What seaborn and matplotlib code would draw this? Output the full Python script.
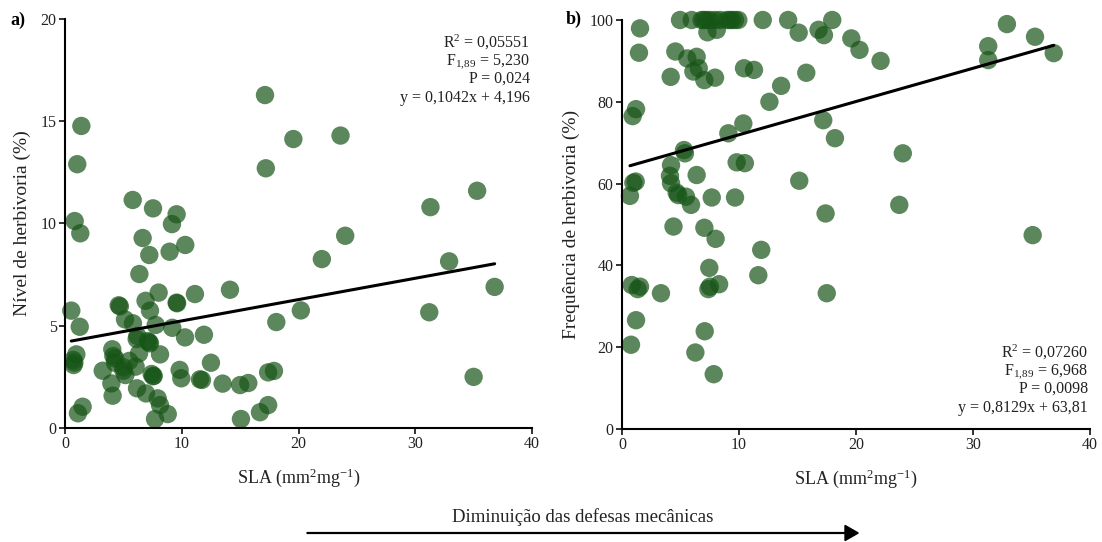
import numpy as np
import pandas as pd
import matplotlib
matplotlib.use("Agg")
import matplotlib.pyplot as plt
import seaborn as sns

# ---------------- data ----------------
sla_a = [17.13, 19.56, 23.6, 17.2, 35.3, 31.3, 24.0, 22.0, 32.9, 14.13, 36.8, 20.2, 31.2,
         18.1, 11.9, 12.5, 13.5, 15.0, 15.7, 17.4, 17.9, 35.0, 17.4, 16.7, 15.07,
         1.40, 1.05, 5.8, 7.54, 9.56, 9.16, 0.83, 1.31, 6.65, 10.3, 8.96, 7.22,
         6.37, 8.02, 11.13, 4.6, 4.7, 9.56, 9.6, 6.9, 0.54, 7.28, 5.14, 5.82, 1.26, 7.77,
         9.19, 10.28, 6.14, 7.08, 7.28, 6.34, 8.14, 4.05, 4.14, 0.97, 0.71, 0.74, 4.28,
         5.5, 6.05, 5.0, 5.17, 3.23, 7.42, 7.54, 9.82, 9.96, 11.56, 11.73, 3.97, 6.17,
         6.94, 4.08, 7.94, 8.14, 8.8, 7.71, 1.51, 1.11,
         7.6, 0.8, 4.3, 5.0, 6.2, 7.2]
herb_a = [16.28, 14.13, 14.3, 12.7, 11.6, 10.8, 9.4, 8.26, 8.15, 6.76, 6.9, 5.75, 5.66,
          5.18, 4.56, 3.19, 2.17, 2.1, 2.2, 2.72, 2.79, 2.5, 1.12, 0.77, 0.44,
          14.77, 12.9, 11.15, 10.74, 10.45, 9.97, 10.12, 9.52, 9.29, 8.95, 8.62, 8.46,
          7.53, 6.62, 6.55, 6.0, 5.95, 6.13, 6.1, 6.22, 5.74, 5.74, 5.31, 5.12, 4.95, 5.04,
          4.9, 4.43, 4.35, 4.25, 4.14, 3.65, 3.6, 3.85, 3.52, 3.6, 3.33, 3.08, 3.19,
          3.28, 3.0, 2.97, 2.59, 2.8, 2.64, 2.53, 2.84, 2.43, 2.38, 2.35, 2.18, 1.94,
          1.69, 1.58, 1.45, 1.12, 0.68, 0.44, 1.04, 0.72,
          2.55, 3.2, 3.4, 2.8, 4.5, 4.2]

sla_b = [4.96, 5.96, 6.8, 7.24, 7.52, 7.95, 8.38, 8.95, 9.38, 9.66, 9.94, 12.03, 14.2, 17.97,
         1.54, 7.3, 8.1, 15.1, 16.8, 17.26, 1.45, 4.56, 5.58, 6.38, 6.56, 6.1, 4.16, 7.04,
         7.95, 10.43, 11.28, 15.75, 13.6, 12.6, 1.2, 0.91, 10.37, 9.09,
         19.6, 20.3, 22.1, 17.2, 18.2, 24.0, 15.15, 17.4, 23.7, 35.1, 17.5, 32.9, 35.3,
         31.3, 31.3, 36.9,
         5.3, 5.38, 4.19, 4.1, 4.19, 4.67, 4.8, 5.47, 5.9, 6.38, 7.67, 9.66, 9.8, 10.5,
         0.97, 1.17, 0.68, 4.4, 7.04, 8.0, 11.9, 7.46, 11.65, 0.83, 1.54, 1.34, 3.33,
         7.52, 8.3, 7.38, 1.2,
         0.77, 7.07, 6.27, 7.84, 7.0, 9.2]
freq_b = [100, 100, 100, 100, 100, 100, 100, 100, 100, 100, 100, 100, 100, 100,
          97.96, 97.0, 97.6, 96.9, 97.6, 96.3, 92.0, 92.3, 90.6, 91.0, 88.2, 87.4, 86.1, 85.3,
          85.9, 88.2, 87.8, 87.1, 83.9, 80.0, 78.2, 76.5, 74.7, 72.3,
          95.5, 92.7, 90.0, 75.5, 71.1, 67.4, 60.7, 52.7, 54.8, 47.4, 33.2, 99.0, 95.9,
          93.6, 90.2, 91.9,
          68.2, 67.4, 64.5, 61.9, 60.1, 57.8, 57.2, 56.8, 54.8, 62.1, 56.6, 56.6, 65.2, 65.0,
          60.2, 60.5, 57.0, 49.5, 49.2, 46.5, 43.8, 39.4, 37.6, 35.2, 34.8, 34.2, 33.2,
          34.8, 35.4, 34.2, 26.6,
          20.6, 23.9, 18.7, 13.4, 100, 100]

# regression coefficients as reported
slope_a, icpt_a = 0.1042, 4.196
slope_b, icpt_b = 0.8129, 63.81

stats_a = ["R$^2$ = 0,05551", "F$_{1{,}89}$ = 5,230", "P = 0,024", "y = 0,1042x + 4,196"]
stats_b = ["R$^2$ = 0,07260", "F$_{1{,}89}$ = 6,968", "P = 0,0098", "y = 0,8129x + 63,81"]

xticks = [0, 10, 20, 30, 40]
yticks_a = [0, 5, 10, 15, 20]
yticks_b = [0, 20, 40, 60, 80, 100]

# ---------------- style ----------------
sns.set_theme(style="ticks")
plt.rcParams['font.family'] = ['Liberation Serif', 'DejaVu Serif']
plt.rcParams['mathtext.fontset'] = 'custom'
plt.rcParams['mathtext.rm'] = 'Liberation Serif'
plt.rcParams['mathtext.it'] = 'Liberation Serif:italic'

txt = "#222222"
pt_color = "#175517"

fig = plt.figure(figsize=(11.02, 5.42), dpi=100)
ax_a = fig.add_axes([65/1102, 1-428/542, (532-65)/1102, (428-19)/542])
ax_b = fig.add_axes([622/1102, 1-429/542, (1090-622)/1102, (429-20)/542])

df_a = pd.DataFrame({"SLA": sla_a, "herb": herb_a})
df_b = pd.DataFrame({"SLA": sla_b, "freq": freq_b})

sns.scatterplot(data=df_a, x="SLA", y="herb", ax=ax_a, color=pt_color, alpha=0.7,
                s=175, edgecolor="none", legend=False, clip_on=False)
sns.scatterplot(data=df_b, x="SLA", y="freq", ax=ax_b, color=pt_color, alpha=0.7,
                s=175, edgecolor="none", legend=False, clip_on=False)

xa = np.array([min(sla_a), max(sla_a)])
ax_a.plot(xa, slope_a * xa + icpt_a, color="black", lw=2.2)
xb = np.array([min(sla_b), max(sla_b)])
ax_b.plot(xb, slope_b * xb + icpt_b, color="black", lw=2.2)

for ax, yt, ylab in [(ax_a, yticks_a, "Nível de herbivoria (%)"),
                     (ax_b, yticks_b, "Frequência de herbivoria (%)")]:
    ax.set_xlim(0, 40)
    ax.set_ylim(yt[0], yt[-1])
    ax.set_xticks(xticks)
    ax.set_yticks(yt)
    ax.set_xlabel("SLA (mm$^2$mg$^{-1}$)", fontsize=13, color=txt, labelpad=10)
    ax.set_ylabel(ylab, fontsize=14, color=txt, labelpad=7)
    ax.tick_params(axis="both", labelsize=11.5, colors=txt, length=4, width=1.3,
                   direction="out", pad=2)
    for sp in ["top", "right"]:
        ax.spines[sp].set_visible(False)
    for sp in ["left", "bottom"]:
        ax.spines[sp].set_linewidth(1.5)
        ax.spines[sp].set_color("black")

# statistics text
for i, s in enumerate(stats_a):
    ax_a.text(0.995, 0.965 - i * 0.046, s, transform=ax_a.transAxes, ha="right",
              va="top", fontsize=11.5, color=txt)
for i, s in enumerate(stats_b):
    ax_b.text(0.995, 0.21 - i * 0.046, s, transform=ax_b.transAxes, ha="right",
              va="top", fontsize=11.5, color=txt)

# panel letters
fig.text(10/1102, 1-20/542, "a)", fontsize=13, fontweight="bold", va="center", color="black")
fig.text(566/1102, 1-19/542, "b)", fontsize=13, fontweight="bold", va="center", color="black")

# bottom arrow
fig.text(583/1102, 1-517/542, "Diminuição das defesas mecânicas", ha="center", va="center",
         fontsize=13.5, color=txt)
fig.patches.append(matplotlib.patches.FancyArrow(
    307/1102, 1-533/542, (845-307)/1102, 0, width=0.0015, head_width=0.028,
    head_length=0.012, length_includes_head=False, color="black",
    transform=fig.transFigure, figure=fig))

fig.savefig("out.png", dpi=100)
